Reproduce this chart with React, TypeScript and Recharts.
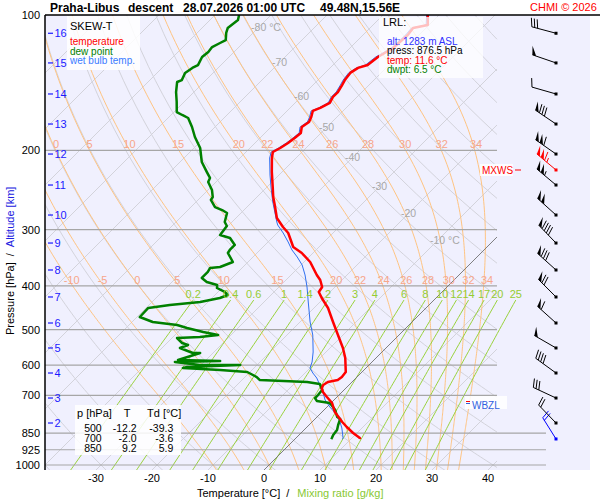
import { CartesianGrid, ComposedChart, Line, Scatter, XAxis, YAxis } from "recharts";

const FONT = '"Liberation Sans", Arial, Helvetica, sans-serif';

// axes
const pressureTicks = [100, 200, 300, 400, 500, 600, 700, 850, 925, 1000];
const tempTicks = [-30, -20, -10, 0, 10, 20, 30, 40];

// background diagram families
const isotherms = [-120, -110, -100, -90, -80, -70, -60, -50, -40, -30, -20, -10, 0, 10, 20, 30, 40];
const isoLabelT = [-80, -70, -60, -50, -40, -30, -20, -10];
const isoLabelP = [106.3, 127.2, 151.4, 177.4, 206.8, 239.9, 275.4, 316.2];
const dryThetas = [-40, -30, -20, -10, 0, 10, 20, 30, 40, 50, 60, 70, 80, 90, 100, 110, 120, 130, 140, 150, 160, 170, 180];
const moistThetaW = [-10, -5, 0, 5, 10, 15, 20, 22, 24, 26, 28, 30, 32, 34];
const mixingRatios = [0.2, 0.4, 0.6, 1, 1.4, 2, 3, 4, 6, 8, 10, 12, 14, 17, 20, 25];

// sounding: temperature
const tempP = [100, 105.3, 106.9, 110.8, 118.4, 124.0, 129.2, 131.1, 134.5, 139.5, 143.1, 148.3, 152.1, 156.8, 160.9, 163.4, 168.5, 172.9, 177.4, 182.9, 187.7, 192.5, 197.5, 201.6, 207.9, 223.4, 242.3, 253.8, 264.4, 282.6, 295.9, 305.1, 327.8, 338.0, 353.9, 378.2, 388.0, 402.2, 412.6, 425.5, 447.8, 481.1, 514.2, 549.5, 578.3, 621.4, 637.6, 647.5, 654.2, 664.3, 674.6, 688.5, 706.3, 728.3, 762.6, 802.6, 823.4, 849.0, 871.0, 876.5];
const tempT = [-52.0, -50.2, -52.3, -52.0, -52.3, -53.4, -53.8, -55.0, -55.5, -55.2, -54.8, -54.3, -54.3, -53.8, -54.6, -55.4, -54.6, -54.1, -54.5, -53.6, -53.8, -54.1, -54.6, -55.2, -54.3, -51.8, -48.8, -47.1, -45.4, -42.7, -40.0, -38.0, -34.6, -32.0, -28.9, -25.4, -23.9, -22.3, -22.0, -20.4, -17.5, -14.1, -10.9, -7.7, -5.5, -2.9, -2.7, -2.9, -4.3, -4.6, -4.3, -3.4, -1.8, 0.2, 2.3, 5.4, 7.1, 9.3, 11.4, 11.6];

// sounding: dew point
const dewP = [100, 102.6, 106.9, 109.6, 113.7, 115.4, 117.8, 120.8, 124.0, 129.2, 131.1, 134.5, 139.5, 140.9, 148.3, 156.1, 164.3, 166.8, 169.4, 177.4, 186.7, 197.5, 212.2, 223.4, 230.2, 235.0, 244.8, 253.8, 257.7, 267.2, 271.3, 275.4, 288.4, 294.4, 308.3, 313.0, 324.4, 332.8, 338.0, 353.9, 363.1, 364.9, 372.4, 384.0, 392.0, 398.1, 404.3, 412.6, 419.0, 425.5, 434.3, 441.0, 447.8, 469.0, 481.1, 488.6, 496.2, 506.3, 514.2, 519.5, 522.2, 535.7, 541.2, 549.5, 563.8, 563.8, 584.3, 587.3, 590.4, 599.5, 599.5, 605.7, 608.8, 615.0, 621.4, 637.6, 647.5, 654.2, 660.7, 681.4, 699.1, 709.9, 720.6, 728.3, 754.8, 782.2, 790.3, 814.9, 836.1, 857.7, 871.0, 876.5];
const dewT = [-85.7, -85.0, -85.4, -84.8, -83.6, -84.1, -84.8, -84.6, -84.8, -84.1, -84.6, -85.0, -84.3, -84.8, -83.2, -81.3, -79.5, -78.0, -76.4, -74.1, -71.8, -68.9, -66.1, -63.4, -61.8, -61.4, -59.3, -57.9, -57.7, -55.7, -53.9, -52.5, -51.3, -50.2, -49.8, -47.5, -45.4, -45.4, -45.2, -42.7, -44.1, -45.7, -45.4, -45.4, -43.8, -41.4, -40.9, -38.8, -37.7, -38.6, -41.4, -46.3, -49.6, -49.5, -46.3, -41.4, -39.1, -35.5, -32.3, -35.2, -39.1, -37.3, -35.9, -36.8, -33.6, -32.3, -35.0, -27.3, -35.2, -30.2, -23.0, -32.1, -32.7, -25.7, -20.5, -17.9, -16.8, -8.0, -5.4, -3.9, -3.75, -3.75, -2.9, -0.2, 2.0, 3.6, 4.5, 5.2, 5.9, 6.1, 6.4, 6.5];

// sounding: wet bulb temperature
const wetP = [100, 105.3, 106.9, 110.8, 118.4, 124.0, 129.2, 131.1, 134.5, 139.5, 143.1, 148.3, 152.1, 156.8, 160.9, 163.4, 168.5, 172.9, 177.4, 182.9, 187.7, 192.5, 197.5, 201.6, 207.9, 226.8, 242.3, 260.3, 288.4, 292.9, 305.1, 319.5, 332.8, 345.0, 359.4, 378.2, 402.2, 434.3, 481.1, 514.2, 560.9, 590.4, 608.8, 624.6, 640.9, 664.3, 688.5, 717.0, 743.1, 774.3, 802.6, 827.6, 871.0, 876.5];
const wetT = [-52.2, -50.5, -52.6, -52.4, -52.6, -53.8, -54.2, -55.3, -55.8, -55.5, -55.1, -54.6, -54.6, -54.1, -54.9, -55.7, -54.9, -54.4, -54.8, -53.9, -54.1, -54.4, -54.9, -55.5, -54.7, -51.6, -49.1, -46.3, -42.0, -41.3, -38.9, -36.4, -34.3, -32.1, -29.8, -27.5, -25.0, -22.1, -18.2, -15.4, -12.3, -10.7, -10.0, -8.6, -7.0, -5.2, -3.4, -1.6, 0.5, 3.2, 5.0, 6.4, 8.4, 8.5];

// altitude marks (km) and their pressures
const kmLevels = [2, 3, 4, 5, 6, 7, 8, 9, 10, 11, 12, 13, 14, 15, 16];
const kmP = [806.7, 709.9, 624.6, 549.5, 483.6, 423.3, 368.7, 321.2, 278.3, 238.7, 203.7, 174.7, 149.8, 127.8, 109.8];

// wind profile
const windP = [875.4, 806.7, 709.9, 624.6, 549.5, 483.6, 423.3, 368.7, 321.2, 278.3, 238.7, 203.7, 174.7, 149.8, 127.8, 109.8];
const windDir = [328, 316, 295, 306, 300, 312, 315, 312, 316, 312, 310, 305, 304, 286, 289, 285];
const windSpd = [20, 20, 30, 40, 50, 60, 70, 80, 90, 100, 105, 110, 80, 10, 50, 30];
const maxWindP = 221.0;
const maxWindDir = 310;
const maxWindSpd = 115;

// table
const tableP = [500, 700, 850];
const tableT = ["-12.2", "-2.0", "9.2"];
const tableTd = ["-39.3", "-3.6", "5.9"];

// geometry of the skewed diagram
const P_BOT = 1026;
const SKEW = 80.35;
const X_MIN = -39.11;
const X_MAX = 58.21;
const X_DIAG = 41.6;
const X_LOW = 50.36;
const X_BARB = 52.14;

type Pt = { x: number; p: number };

const skew = (t: number, p: number) => t + SKEW * Math.log10(P_BOT / p);
const profile = (ps: number[], ts: number[]): Pt[] => ps.map((p, i) => ({ x: skew(ts[i], p), p }));

const clipRight = (pts: Pt[], xc: number): Pt[] => {
  const out: Pt[] = [];
  for (let i = 0; i < pts.length; i++) {
    const a = pts[i];
    const b = pts[i + 1];
    if (a.x <= xc) out.push(a);
    if (b && a.x <= xc !== b.x <= xc) {
      const f = (xc - a.x) / (b.x - a.x);
      const lp = Math.log(a.p) + f * (Math.log(b.p) - Math.log(a.p));
      out.push({ x: xc, p: Math.exp(lp) });
    }
  }
  return out;
};

const sampleP = (from: number, to: number, step: number) => {
  const out: number[] = [];
  for (let p = from; step > 0 ? p <= to : p >= to; p += step) out.push(p);
  return out;
};

const satVap = (tc: number) => 6.112 * Math.exp((17.67 * tc) / (tc + 243.5));

const moistLapse = (p: number, tk: number) => {
  const es = satVap(tk - 273.15);
  const rs = (0.622 * es) / (p - es);
  const num = (287.04 * tk + 2.501e6 * rs) / p;
  const den = 1005.7 + (2.501e6 * 2.501e6 * rs * 0.622) / (287.04 * tk * tk);
  return num / den;
};

const moistCurve = (tw: number): Pt[] => {
  const up: [number, number][] = [[1000, tw + 273.15]];
  let p = 1000;
  let t = tw + 273.15;
  while (p > 100) {
    const dp = -5;
    const k1 = moistLapse(p, t);
    const k2 = moistLapse(p + dp / 2, t + (k1 * dp) / 2);
    t += k2 * dp;
    p += dp;
    up.push([p, t]);
  }
  const down: [number, number][] = [];
  p = 1000;
  t = tw + 273.15;
  while (p < 1030) {
    const dp = 5;
    const k1 = moistLapse(p, t);
    const k2 = moistLapse(p + dp / 2, t + (k1 * dp) / 2);
    t += k2 * dp;
    p += dp;
    down.push([p, t]);
  }
  return [...down.reverse(), ...up].map(([pp, tk]) => ({ x: skew(tk - 273.15, pp), p: pp }));
};

const xAt = (pts: Pt[], p: number) => {
  for (let i = 0; i < pts.length - 1; i++) {
    const a = pts[i];
    const b = pts[i + 1];
    if ((a.p - p) * (b.p - p) <= 0) {
      const f = a.p === b.p ? 0 : (p - a.p) / (b.p - a.p);
      return a.x + f * (b.x - a.x);
    }
  }
  return pts[pts.length - 1].x;
};

const mixTemp = (w: number, p: number) => {
  const e = ((w / 1000) * p) / (0.622 + w / 1000);
  const l = Math.log(e / 6.112);
  return (243.5 * l) / (17.67 - l);
};

const isoLines = isotherms.map((t) =>
  clipRight([{ x: skew(t, 1030), p: 1030 }, { x: skew(t, 100), p: 100 }], X_DIAG)
);
const dryLines = dryThetas.map((th) =>
  clipRight(
    sampleP(1030, 100, -10).map((p) => ({ x: skew((th + 273.15) * Math.pow(p / 1000, 0.2857) - 273.15, p), p })),
    X_DIAG
  )
);
const moistRaw = moistThetaW.map(moistCurve);
const moistLines = moistRaw.map((c) => clipRight(c, X_DIAG));
const mixLines = mixingRatios.map((w) => sampleP(1030, 430, -10).map((p) => ({ x: skew(mixTemp(w, p), p), p })));

const isoLabels = isoLabelT.map((t, i) => ({
  x: skew(t, isoLabelP[i]),
  p: isoLabelP[i],
  text: t === -80 || t === -10 ? `${t} °C` : `${t}`,
}));
const mixLabels = mixingRatios.map((w) => ({ x: skew(mixTemp(w, 430), 430), p: 417, text: `${w}` }));
const moistLabels = [
  ...moistThetaW
    .map((tw, i) => ({ x: xAt(moistRaw[i], 194), p: 194, text: `${tw}` }))
    .filter((d, i) => moistThetaW[i] >= 0),
  ...moistThetaW.map((tw, i) => ({ x: xAt(moistRaw[i], 388), p: 388, text: `${tw}` })),
];

const pressureLines = pressureTicks
  .filter((p) => p > 100)
  .map((p) => [{ x: X_MIN, p }, { x: p >= 850 ? X_LOW : X_DIAG, p }]);
const zeroIso = clipRight([{ x: skew(0, 1030), p: 1030 }, { x: skew(0, 100), p: 100 }], X_DIAG);

const kmData = kmLevels.map((km, i) => ({ x: X_MIN, p: kmP[i], text: `${km}` }));
const windData = [
  ...windP.map((p, i) => ({ x: X_BARB, p, dir: windDir[i], spd: windSpd[i], color: i === 0 ? "#0000ff" : "#000" })),
  { x: X_BARB, p: maxWindP, dir: maxWindDir, spd: maxWindSpd, color: "#ff0000" },
];

const tempLine = profile(tempP, tempT);
const dewLine = profile(dewP, dewT);
const wetLine = profile(wetP, wetT);

const textShape = (color: string, size: number, anchor: "start" | "middle" | "end", dx: number) => (props: any) => (
  <text
    x={props.cx + dx}
    y={props.cy}
    dy="0.35em"
    fill={color}
    fontSize={size}
    textAnchor={anchor}
    fontFamily={FONT}
  >
    {props.payload.text}
  </text>
);

const KmShape = (props: any) => (
  <g>
    <line x1={props.cx + 3} x2={props.cx + 8} y1={props.cy} y2={props.cy} stroke="#1a1aff" strokeWidth={1.2} />
    <text x={props.cx + 9.5} y={props.cy} dy="0.35em" fill="#1a1aff" fontSize={11} fontFamily={FONT}>
      {props.payload.text}
    </text>
  </g>
);

const BarbShape = (props: any) => {
  const { cx, cy, payload } = props;
  const col = payload.color;
  const r = (payload.dir * Math.PI) / 180;
  const sx = Math.sin(r);
  const sy = -Math.cos(r);
  const L = 25;
  const BL = 9;
  const a = (72 * Math.PI) / 180;
  const bx = sx * Math.cos(a) - sy * Math.sin(a);
  const by = sx * Math.sin(a) + sy * Math.cos(a);
  const at = (d: number) => [cx + sx * d, cy + sy * d];
  const parts: any[] = [];
  let rem = Math.round(payload.spd / 5) * 5;
  let d = L;
  let k = 0;
  while (rem >= 50) {
    const [x1, y1] = at(d);
    const [x2, y2] = at(d - 4);
    parts.push(<polygon key={k++} points={`${x1},${y1} ${x1 + bx * BL},${y1 + by * BL} ${x2},${y2}`} fill={col} />);
    d -= 5;
    rem -= 50;
  }
  while (rem >= 10) {
    const [x1, y1] = at(d);
    parts.push(<line key={k++} x1={x1} y1={y1} x2={x1 + bx * BL} y2={y1 + by * BL} stroke={col} strokeWidth={1} />);
    d -= 3;
    rem -= 10;
  }
  if (rem >= 5) {
    if (d === L) d -= 3;
    const [x1, y1] = at(d);
    parts.push(<line key={k++} x1={x1} y1={y1} x2={x1 + (bx * BL) / 2} y2={y1 + (by * BL) / 2} stroke={col} strokeWidth={1} />);
  }
  const [ex, ey] = at(L);
  return (
    <g>
      <line x1={cx} y1={cy} x2={ex} y2={ey} stroke={col} strokeWidth={1} />
      <rect x={cx - 1.5} y={cy - 1.5} width={3} height={3} fill={col} />
      {parts}
    </g>
  );
};

const PTick = (props: any) => (
  <text x={props.x - 5} y={props.y} dy={4} textAnchor="end" fontSize={11} fill="#000" fontFamily={FONT}>
    {props.payload.value}
  </text>
);

const TTick = (props: any) => (
  <text x={props.x} y={props.y + 12} textAnchor="middle" fontSize={11} fill="#000" fontFamily={FONT}>
    {props.payload.value}
  </text>
);

const line = (key: string, data: Pt[], stroke: string, width = 1) => (
  <Line
    key={key}
    data={data}
    dataKey="p"
    type="linear"
    stroke={stroke}
    strokeWidth={width}
    strokeLinejoin="round"
    dot={false}
    activeDot={false}
    isAnimationActive={false}
  />
);

export default function App() {
  return (
    <div style={{ position: "absolute", left: 0, top: 0, width: 600, height: 500, background: "#fff" }}>
      <ComposedChart width={600} height={500} margin={{ top: 15, right: 10, left: 0, bottom: 0 }}>
        <CartesianGrid horizontal={false} vertical={false} fill="#f0f0fe" stroke="none" />
        <XAxis
          type="number"
          dataKey="x"
          domain={[X_MIN, X_MAX]}
          allowDataOverflow
          ticks={tempTicks}
          interval={0}
          height={30}
          axisLine={false}
          tickLine={false}
          tickSize={0}
          tickMargin={0}
          tick={TTick}
        />
        <YAxis
          type="number"
          dataKey="p"
          scale="log"
          domain={[100, P_BOT]}
          reversed
          allowDataOverflow
          ticks={pressureTicks}
          interval={0}
          width={45}
          axisLine={false}
          tickLine={false}
          tickSize={0}
          tickMargin={0}
          tick={PTick}
        />
        {isoLines.map((d, i) => line(`iso${i}`, d, "#d3d3db"))}
        {dryLines.map((d, i) => line(`dry${i}`, d, "#d3d3db"))}
        {moistLines.map((d, i) => line(`moist${i}`, d, "#ffc482"))}
        {mixLines.map((d, i) => line(`mix${i}`, d, "#99d23c"))}
        {pressureLines.map((d, i) => line(`pl${i}`, d, "#a6a6a6", 1.2))}
        {line("zero", zeroIso, "#6a6a6a", 0.8)}
        {line("wet", wetLine, "#2f6ff0", 1)}
        {line("dew", dewLine, "#008000", 2.5)}
        {line("temp", tempLine, "#ff0000", 2.5)}
        <Scatter data={isoLabels} shape={textShape("#a8a8a8", 10.5, "start", -8)} isAnimationActive={false} />
        <Scatter data={moistLabels} shape={textShape("#f7a68a", 11, "middle", 3)} isAnimationActive={false} />
        <Scatter data={mixLabels} shape={textShape("#95cc33", 11, "middle", 0)} isAnimationActive={false} />
        <Scatter data={kmData} shape={KmShape} isAnimationActive={false} />
        <Scatter data={windData} shape={BarbShape} isAnimationActive={false} />
      </ComposedChart>

      <svg
        width={600}
        height={500}
        style={{ position: "absolute", left: 0, top: 0, pointerEvents: "none" }}
        fontFamily={FONT}
      >
        <line x1={45} y1={15} x2={600} y2={15} stroke="#000" strokeWidth={1.5} />
        <line x1={45} y1={15} x2={45} y2={470} stroke="#000" strokeWidth={1.5} />

        <g fontWeight="bold" fontSize={12} fill="#000">
          <text x={50} y={12}>Praha-Libus</text>
          <text x={128} y={12}>descent</text>
          <text x={183} y={12}>28.07.2026 01:00 UTC</text>
          <text x={320} y={12}>49.48N,15.56E</text>
        </g>
        <text x={530} y={11} fontSize={11} fill="#ff0000">CHMI © 2026</text>

        <rect x={67} y={16} width={73} height={54} fill="#fff" fillOpacity={0.85} />
        <text x={70} y={30} fontSize={11} fill="#000">SKEW-T</text>
        <text x={70} y={45} fontSize={10} fill="#ff0000">temperature</text>
        <text x={70} y={54.5} fontSize={10} fill="#008000">dew point</text>
        <text x={70} y={64} fontSize={10} fill="#3a7bff">wet bulb temp.</text>

        <rect x={379} y={17} width={104} height={61} fill="#fff" fillOpacity={0.75} />
        <text x={383} y={26} fontSize={11} fill="#000">LRL:</text>
        <text x={387} y={44.5} fontSize={10} fill="#3030ff">alt: 1283 m ASL</text>
        <text x={387} y={54} fontSize={10} fill="#000">press: 876.5 hPa</text>
        <text x={387} y={64} fontSize={10} fill="#ff0000">temp: 11.6 °C</text>
        <text x={387} y={73} fontSize={10} fill="#008000">dwpt: 6.5 °C</text>

        <rect x={480} y={164} width={33} height={12} fill="#fff" fillOpacity={0.85} />
        <text x={482} y={173.5} fontSize={10} fill="#ff0000">MXWS</text>
        <line x1={515} y1={170} x2={521} y2={170} stroke="#ff0000" strokeWidth={1} />

        <rect x={465} y={396} width={42} height={13} fill="#fff" fillOpacity={0.85} />
        <line x1={466} y1={401.5} x2={470} y2={401.5} stroke="#ff0000" strokeWidth={1} />
        <line x1={466} y1={403.5} x2={470} y2={403.5} stroke="#3060e0" strokeWidth={1} />
        <text x={472} y={408.5} fontSize={10} fill="#3060e0">WBZL</text>

        <rect x={75} y={405} width={106} height={50} fill="#fff" fillOpacity={0.85} />
        <text x={77} y={416.7} fontSize={11} fill="#000">p [hPa]</text>
        <text x={127} y={416.7} fontSize={11} fill="#000" textAnchor="middle">T</text>
        <text x={147} y={416.7} fontSize={11} fill="#000">Td [°C]</text>
        {tableP.map((p, i) => (
          <g key={p} fontSize={10.5} fill="#000" textAnchor="end">
            <text x={101.7} y={431.7 + i * 10}>{p}</text>
            <text x={136.7} y={431.7 + i * 10}>{tableT[i]}</text>
            <text x={173.3} y={431.7 + i * 10}>{tableTd[i]}</text>
          </g>
        ))}

        <text x={197} y={496.5} fontSize={11} fill="#000">
          Temperature [°C]
          <tspan dx={6}>/</tspan>
          <tspan dx={8} fill="#88c833">Mixing ratio [g/kg]</tspan>
        </text>
        <text transform="translate(14,335) rotate(-90)" fontSize={11} fill="#000">
          Pressure [hPa]
          <tspan dx={6}>/</tspan>
          <tspan dx={6} fill="#2020e0">Altitude [km]</tspan>
        </text>
      </svg>
    </div>
  );
}
